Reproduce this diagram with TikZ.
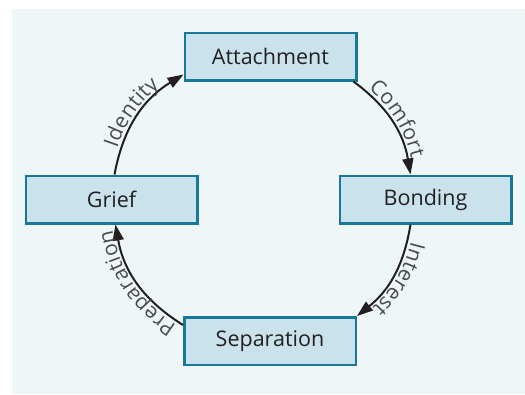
\documentclass[tikz,border=0pt]{standalone}
\usepackage{fontspec}
\setmainfont{Open Sans}
\newfontfamily\lblfam[LetterSpace=4]{Open Sans}
\usetikzlibrary{arrows.meta,decorations.text}
\definecolor{bgc}{HTML}{EEF6F8}
\definecolor{boxfill}{HTML}{C9E2EC}
\definecolor{boxline}{HTML}{17789A}
\definecolor{txtc}{HTML}{231F20}
\definecolor{lblc}{HTML}{4A4A4A}
\newcommand{\lblfont}{\lblfam\fontsize{21}{24}\selectfont}
\tikzset{
  stagebox/.style={draw=boxline, fill=boxfill, line width=2.5pt,
    minimum width=171.5pt, minimum height=47.5pt, inner sep=0pt,
    text=txtc, font=\fontsize{21.5}{26}\selectfont},
  cyclearrow/.style={line width=2pt, draw=txtc,
    -{Triangle[length=16pt,width=11pt]}},
  arclabel/.style={postaction={decorate, decoration={text along path,
    text={|\lblfont\color{lblc}|#1}, text align=center, raise=4pt}}}
}
\begin{document}
\begin{tikzpicture}[x=1pt,y=-1pt]
\useasboundingbox (0,0) rectangle (525,394);
\fill[bgc] (12,9) rectangle (525,394);
\node[stagebox] (att) at (270.5,56.5) {Attachment};
\node[stagebox] (grief) at (111.5,199.5) {Grief};
\node[stagebox] (bond) at (425.5,199.5) {Bonding};
\node[stagebox] (sep) at (270,341) {Separation};
\draw[cyclearrow, arclabel=Identity] ([xshift=3pt]grief.north) to[bend left=24] ([yshift=7pt]att.south west);
\draw[cyclearrow, arclabel=Comfort] ([xshift=-4pt]att.south east) to[bend left=22] ([xshift=-15pt]bond.north);
\draw[cyclearrow, arclabel=Interest] ([xshift=-15pt]bond.south) to[bend left=21] (sep.north east);
\draw[cyclearrow, arclabel=Preparation] ([yshift=16pt]sep.west) to[bend left=24] ([xshift=4pt]grief.south);
\end{tikzpicture}
\end{document}
